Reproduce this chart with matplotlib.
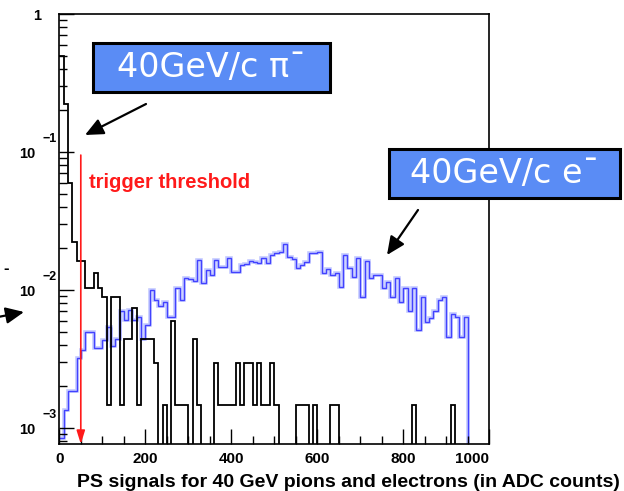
import numpy as np
import matplotlib
matplotlib.use("Agg")
import matplotlib.pyplot as plt
from matplotlib.patches import Rectangle, FancyArrowPatch
from matplotlib.ticker import MultipleLocator, LogLocator, NullFormatter
from matplotlib.transforms import offset_copy

plt.rcParams['font.family'] = ['Liberation Sans', 'DejaVu Sans']

# 100 ADC bins of 10 counts each
bin_edges = np.arange(0, 1001, 10)

# pion entries per bin, one entry = pion_weight after normalisation
pion_counts = [335, 150, 40, 15, 11, 11, 7, 7, 9, 7,
               6, 1, 6, 6, 1, 3, 3, 5, 1, 3,
               3, 3, 2, 0, 1, 0, 4, 1, 1, 1,
               0, 3, 1, 0, 0, 0, 2, 1, 1, 1,
               1, 2, 1, 2, 2, 1, 2, 1, 1, 2,
               1, 0, 0, 0, 0, 1, 1, 1, 0, 1,
               0, 0, 0, 1, 1, 0, 0, 0, 0, 0,
               0, 0, 0, 0, 0, 0, 0, 0, 0, 0,
               0, 0, 1, 0, 0, 0, 0, 0, 0, 0,
               0, 1, 0, 0, 0, 0, 0, 0, 0, 0]
pion_weight = 1.48e-3

# electron fraction per bin
electron_frac = [8.5e-4, 1.35e-3, 1.86e-3, 1.86e-3, 3.2e-3, 3.7e-3, 5.0e-3, 5.0e-3, 3.8e-3, 3.8e-3,
                 4.35e-3, 5.4e-3, 3.9e-3, 4.4e-3, 7.0e-3, 6.1e-3, 7.2e-3, 6.1e-3, 6.4e-3, 4.4e-3,
                 5.6e-3, 1.0e-2, 8.5e-3, 7.7e-3, 8.2e-3, 6.4e-3, 6.4e-3, 1.03e-2, 8.5e-3, 1.23e-2,
                 1.2e-2, 1.16e-2, 1.64e-2, 1.13e-2, 1.39e-2, 1.29e-2, 1.64e-2, 1.47e-2, 1.47e-2, 1.7e-2,
                 1.34e-2, 1.34e-2, 1.52e-2, 1.55e-2, 1.61e-2, 1.59e-2, 1.57e-2, 1.7e-2, 1.57e-2, 1.79e-2,
                 1.84e-2, 1.88e-2, 2.17e-2, 1.74e-2, 1.68e-2, 1.44e-2, 1.52e-2, 1.6e-2, 1.84e-2, 1.84e-2,
                 1.89e-2, 1.32e-2, 1.41e-2, 1.29e-2, 1.32e-2, 1.05e-2, 1.79e-2, 1.45e-2, 1.25e-2, 1.7e-2,
                 8.9e-3, 1.61e-2, 1.22e-2, 1.29e-2, 1.28e-2, 1.03e-2, 1.15e-2, 8.9e-3, 1.22e-2, 8.2e-3,
                 1.03e-2, 7.0e-3, 1.03e-2, 5.1e-3, 8.9e-3, 5.9e-3, 6.3e-3, 7.0e-3, 8.5e-3, 8.9e-3,
                 4.6e-3, 6.7e-3, 6.4e-3, 4.6e-3, 6.4e-3, 0, 0, 0, 0, 0]

threshold = 50
threshold_top = 0.095

y_min, y_max = 7.66e-4, 1.0
decades = [1e-3, 1e-2, 1e-1, 1.0]
decade_exps = ['\u22123', '\u22122', '\u22121', None]

W, H = 624, 491
fig = plt.figure(figsize=(W / 100, H / 100), dpi=100)
ax = fig.add_axes([59.3 / W, 47 / H, 430 / W, 430 / H])


def fpx(x, y):
    # pixel position -> figure fraction
    return x / W, 1 - y / H


pions = np.array(pion_counts) * pion_weight
electrons = np.array(electron_frac)

# empty bins drop to the bottom of the log frame
ax.stairs(np.where(electrons > 0, electrons, 1e-9), bin_edges, baseline=None,
          color='#c3c9ff', lw=2.6)
ax.stairs(np.where(electrons > 0, electrons, 1e-9), bin_edges, baseline=None,
          color='#4242ff', lw=1.0)
ax.stairs(np.where(pions > 0, pions, 1e-9), bin_edges, baseline=None,
          color='black', lw=1.3)

ax.set_yscale('log')
ax.set_xlim(0, 1000)
ax.set_ylim(y_min, y_max)

for s in ax.spines.values():
    s.set_linewidth(1.2)

ax.xaxis.set_major_locator(MultipleLocator(200))
ax.xaxis.set_minor_locator(MultipleLocator(50))
ax.yaxis.set_major_locator(LogLocator(base=10, numticks=10))
ax.yaxis.set_minor_locator(LogLocator(base=10, subs=np.arange(2, 10), numticks=10))
ax.yaxis.set_minor_formatter(NullFormatter())
ax.tick_params(which='both', direction='in', top=False, right=False, width=1)
ax.tick_params(which='major', length=11)
ax.tick_params(which='minor', length=6)
ax.tick_params(axis='x', labelsize=11, pad=6)
ax.tick_params(axis='y', labelleft=False)
ax.set_xticks([0, 200, 400, 600, 800, 1000])
for lab in ax.get_xticklabels():
    lab.set_fontweight('bold')
ax.get_xticklabels()[-1].set_horizontalalignment('right')

# ROOT-style decade labels: "10" with a raised exponent
ytf = ax.get_yaxis_transform()
for v, e in zip(decades, decade_exps):
    if e is None:
        ax.text(0, v, '1', transform=offset_copy(ytf, fig, x=-18.5, y=-2, units='dots'),
                ha='right', va='center', fontsize=10.5, fontweight='bold')
        continue
    ax.text(0, v, '10', transform=offset_copy(ytf, fig, x=-24, y=-2, units='dots'),
            ha='right', va='center', fontsize=10.5, fontweight='bold')
    ax.text(0, v, e, transform=offset_copy(ytf, fig, x=-16.5, y=13, units='dots'),
            ha='left', va='center', fontsize=9, fontweight='bold')

fig.text(*fpx(620, 487), 'PS signals for 40 GeV pions and electrons (in ADC counts)',
         ha='right', va='baseline', fontsize=14, fontweight='bold')

# trigger threshold marker
ax.annotate('', xy=(threshold, y_min), xytext=(threshold, threshold_top),
            arrowprops=dict(arrowstyle='-|>,head_length=0.8,head_width=0.25',
                            color='#ff1a1a', lw=1.2, mutation_scale=10,
                            shrinkA=0, shrinkB=0))
ax.text(69, 0.0606, 'trigger threshold', color='#ff1a1a', fontsize=14.5,
        fontweight='bold', ha='left', va='center')

# labelled boxes, short raised bar for the negative charge
boxes = [((93, 43), (330, 92), '40GeV/c \u03c0\u02c9'),
         ((389, 149), (620, 198), '40GeV/c e\u02c9')]
for (x0, y0), (x1, y1), txt in boxes:
    fx0, fy1 = fpx(x0, y1)
    fx1, fy0 = fpx(x1, y0)
    fig.add_artist(Rectangle((fx0, fy1), fx1 - fx0, fy0 - fy1, transform=fig.transFigure,
                             facecolor='#5a8cf5', edgecolor='black', lw=2.2))
    fig.text((fx0 + fx1) / 2, (fy0 + fy1) / 2, txt, ha='center', va='center',
             color='white', fontsize=24, family=['DejaVu Sans'])

# pointer arrows
arrows = [((146, 104), (85, 135)), ((418, 210), (387, 255)), ((-2, 317), (24, 312))]
for tail, head in arrows:
    fig.add_artist(FancyArrowPatch(fpx(*tail), fpx(*head), transform=fig.transFigure,
                                   arrowstyle='-|>,head_length=0.55,head_width=0.25',
                                   mutation_scale=20, lw=1.6, color='black',
                                   shrinkA=0, shrinkB=0))
fig.text(*fpx(6, 268), '-', ha='center', va='center', fontsize=12, fontweight='bold')

fig.savefig('out.png', dpi=100)
